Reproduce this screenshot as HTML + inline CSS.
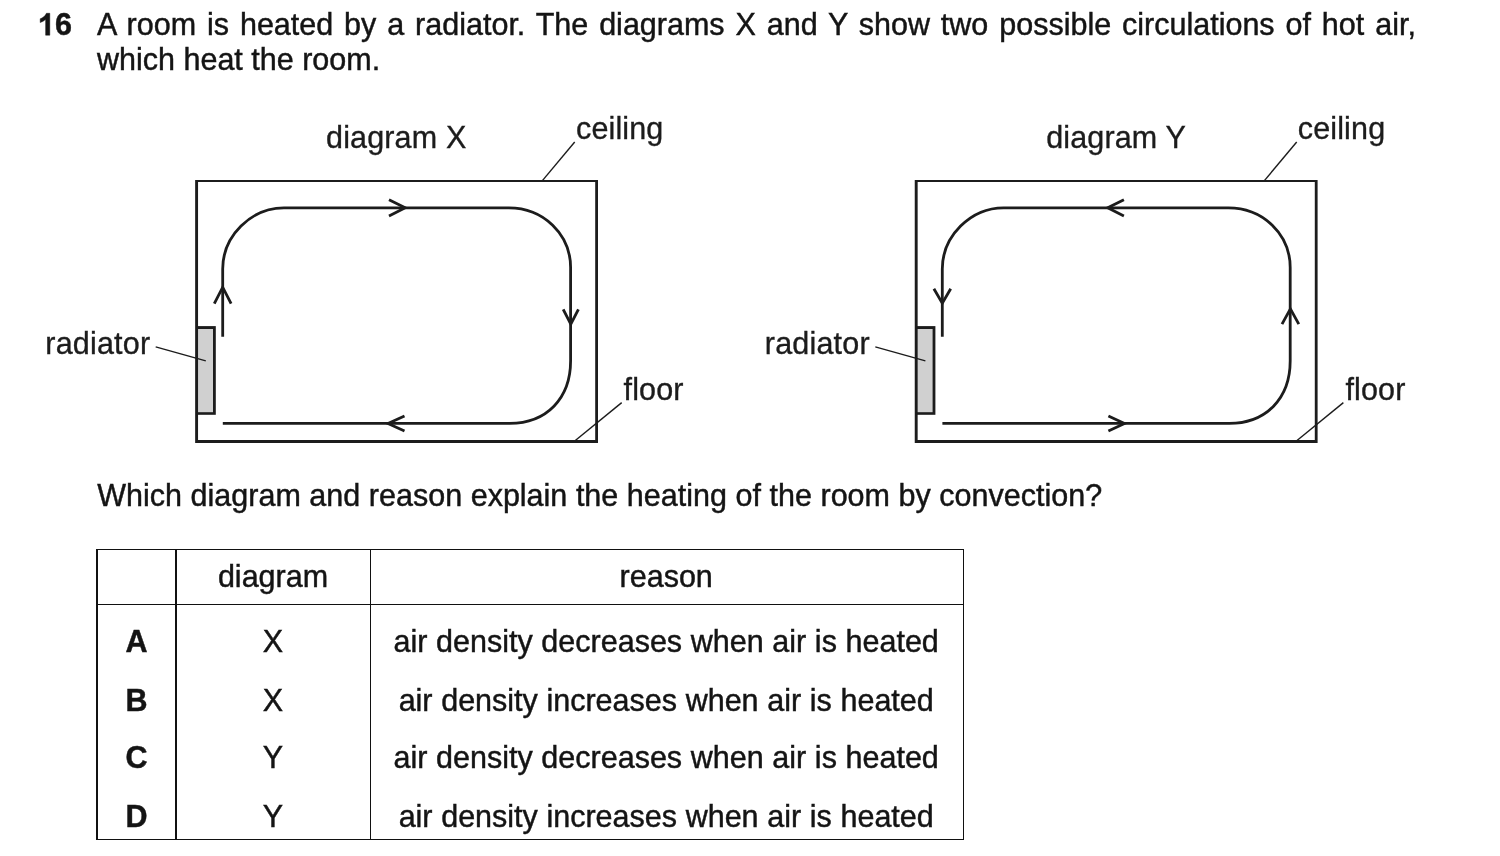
<!DOCTYPE html>
<html lang="en">
<head>
<meta charset="utf-8">
<title>Question 16</title>
<style>
  html, body { margin: 0; padding: 0; background: #ffffff; }
  body {
    width: 1500px; height: 856px; position: relative; overflow: hidden;
    font-family: "Liberation Sans", sans-serif; font-size: 30.5px; color: #141414;
    -webkit-text-stroke: 0.45px #141414;
  }
  #page { position: absolute; left: 0; top: 0; width: 1500px; height: 856px; will-change: transform; background: #ffffff; }
  .t { position: absolute; white-space: nowrap; line-height: 36px; margin: 0; }
  .b { font-weight: bold; }
  #qnum { position: absolute; left: 0; top: 0; }
  #qnum text { font-family: "Liberation Sans", sans-serif; font-size: 30.5px; font-weight: bold; fill: #141414; stroke: #141414; stroke-width: 0.45px; }
  #q1 { left: 97px; top: 6.4px; word-spacing: 2.44px; }
  #q2 { left: 97px; top: 41.4px; }
  #q3 { left: 97.3px; top: 477.3px; word-spacing: 0.1px; }
  svg#dia { position: absolute; left: 0; top: 0; }
  svg#dia text { font-family: "Liberation Sans", sans-serif; font-size: 30.5px; fill: #1c1c1c; stroke: #1c1c1c; stroke-width: 0.35px; letter-spacing: 0.14px; }
  svg#dia text.rad { letter-spacing: 0.2px; }

  /* answer table */
  #tbl { position: absolute; left: 96px; top: 549px; width: 868px; height: 291px; }
  #tbl .ln { position: absolute; background: #111; }
  #tbl .c { position: absolute; text-align: center; white-space: nowrap; line-height: 36px; }
  #tbl .c1 { left: 1px; width: 79px; font-weight: bold; }
  #tbl .c2 { left: 80px; width: 194px; }
  #tbl .c3 { left: 273.7px; width: 593px; word-spacing: 0.18px; }
  #tbl .r0 { top: 9.2px; }
  #tbl .r1 { top: 74px; }
  #tbl .r2 { top: 132.6px; }
  #tbl .r3 { top: 190.4px; }
  #tbl .r4 { top: 248.6px; }
</style>
</head>
<body>
<div id="page">

<svg id="qnum" width="90" height="46" viewBox="0 0 90 46" role="img" aria-label="16">
  <path transform="translate(37.8 35.2) scale(0.0148926 -0.0148926)" fill="#141414" stroke="#141414" stroke-width="30"
        d="M806 0H525V1059Q371 915 162 846V1101Q272 1137 401 1237.500Q530 1338 578 1472H806Z"/>
  <text x="55" y="35.2">6</text>
</svg>
<p id="q1" class="t">A room is heated by a radiator. The diagrams X and Y show two possible circulations of hot air,</p>
<p id="q2" class="t">which heat the room.</p>

<svg id="dia" width="1500" height="470" viewBox="0 0 1500 470">
  <defs>
    <!-- room outline, radiator and circulation loop (no arrow heads) -->
    <g id="room">
      <!-- walls: outer box minus inner box (top wall is thinner than the others) -->
      <path fill="#1c1c1c" fill-rule="evenodd" d="M195.15 180 H598 V442.9 H195.15 Z M198.05 181.95 V440.1 H595.2 V181.95 Z"/>
      <!-- radiator -->
      <rect x="197" y="326.1" width="18.8" height="88.7" fill="#1c1c1c"/>
      <rect x="198.05" y="329" width="14.95" height="83.2" fill="#d0d0d0"/>
      <!-- circulation loop -->
      <path fill="none" stroke="#1c1c1c" stroke-width="2.8" stroke-linecap="butt"
            d="M222.7 336.7 V269 C222.7 236.1 251.1 207.8 284 207.8 H508.8 C543.4 207.8 570.6 234.1 570.6 267.6 V360.8 C570.6 398.5 546.5 423.3 509.7 423.3 H222.8"/>
      <line x1="155.7" y1="346.8" x2="205.8" y2="360.9" stroke="#1c1c1c" stroke-width="1.4"/>
    </g>
  </defs>

  <!-- diagram X -->
  <use href="#room"/>
  <g fill="none" stroke="#1c1c1c" stroke-width="2.8">
    <path d="M389 199.8 L405.2 207.8 L389 216"/>
    <path d="M563.2 309.4 L570.8 324.2 L578.4 309.4"/>
    <path d="M404.5 415.9 L388 423.5 L404.5 431"/>
    <path d="M214.3 303.6 L222.7 287.2 L231.1 303.6"/>
    <line x1="574.7" y1="142" x2="542.6" y2="180.4" stroke-width="1.4"/>
    <line x1="621.7" y1="402.6" x2="575" y2="440.8" stroke-width="1.4"/>
  </g>
  <text x="326.1" y="148.2">diagram X</text>
  <text x="576" y="138.6">ceiling</text>
  <text x="623.6" y="399.7">floor</text>
  <text class="rad" x="45.3" y="353.6">radiator</text>

  <!-- diagram Y -->
  <use href="#room" x="719.6"/>
  <g fill="none" stroke="#1c1c1c" stroke-width="2.8">
    <path d="M1123.9 199.7 L1107.7 207.8 L1123.9 215.9"/>
    <path d="M1282 324.2 L1290.4 308.8 L1298.8 324.2"/>
    <path d="M1108.4 415.9 L1124.5 423.5 L1108.4 431"/>
    <path d="M933.9 288.7 L942.3 303.2 L950.7 288.7"/>
    <line x1="1296.7" y1="142" x2="1264.6" y2="180.4" stroke-width="1.4"/>
    <line x1="1343.4" y1="402.6" x2="1296.7" y2="440.8" stroke-width="1.4"/>
  </g>
  <text x="1046.2" y="148.2">diagram Y</text>
  <text x="1297.8" y="138.6">ceiling</text>
  <text x="1345.4" y="399.7">floor</text>
  <text class="rad" x="764.8" y="353.6">radiator</text>
</svg>

<p id="q3" class="t">Which diagram and reason explain the heating of the room by convection?</p>

<div id="tbl">
  <div class="ln" style="left:0;top:0;width:2px;height:291px"></div>
  <div class="ln" style="left:79px;top:0;width:2px;height:291px"></div>
  <div class="ln" style="left:274px;top:0;width:1px;height:291px"></div>
  <div class="ln" style="left:867px;top:0;width:1px;height:291px"></div>
  <div class="ln" style="left:0;top:0;width:868px;height:1px"></div>
  <div class="ln" style="left:0;top:55px;width:868px;height:1px"></div>
  <div class="ln" style="left:0;top:290px;width:868px;height:1px"></div>

  <div class="c c2 r0">diagram</div><div class="c c3 r0">reason</div>
  <div class="c c1 r1">A</div><div class="c c2 r1">X</div><div class="c c3 r1">air density decreases when air is heated</div>
  <div class="c c1 r2">B</div><div class="c c2 r2">X</div><div class="c c3 r2">air density increases when air is heated</div>
  <div class="c c1 r3">C</div><div class="c c2 r3">Y</div><div class="c c3 r3">air density decreases when air is heated</div>
  <div class="c c1 r4">D</div><div class="c c2 r4">Y</div><div class="c c3 r4">air density increases when air is heated</div>
</div>

</div>
</body>
</html>
